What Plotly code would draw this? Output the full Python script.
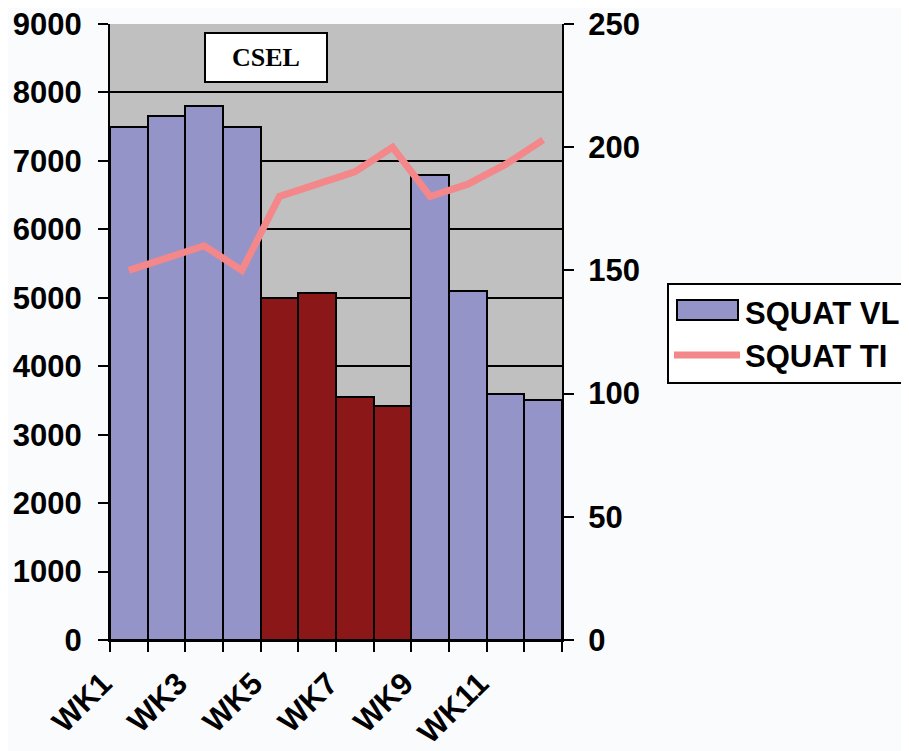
import plotly.graph_objects as go

weeks = ["WK1", "WK2", "WK3", "WK4", "WK5", "WK6", "WK7", "WK8", "WK9", "WK10", "WK11", "WK12"]
squat_vl = [7500, 7650, 7800, 7500, 5000, 5070, 3550, 3420, 6800, 5100, 3600, 3500]
squat_ti = [150, 155, 160, 150, 180, 185, 190, 200, 180, 185, 193, 203]
phase = ["base", "base", "base", "base", "csel", "csel", "csel", "csel", "base", "base", "base", "base"]
tick_labels = ["WK1", "", "WK3", "", "WK5", "", "WK7", "", "WK9", "", "WK11", ""]

BLUE = "#9494c9"
RED = "#8b1719"
LINE = "#f3878a"
FONT = "Liberation Sans, Arial, sans-serif"
FS = 31

bar_colors = [RED if p == "csel" else BLUE for p in phase]

# page body has an 8px margin; target plot area in window px: x 110-562, y 24-640
OFF = 8
W, H = 909, 751
L, T = 110 - OFF, 24 - OFF
PW, PH = 452, 616
R = W - L - PW
B = H - T - PH


def px(x):
    return (x - OFF - L) / PW


def py(y):
    return (H - B - (y - OFF)) / PH


fig = go.Figure()
fig.add_trace(go.Bar(
    x=weeks, y=squat_vl, name="SQUAT VL", showlegend=False,
    marker=dict(color=bar_colors, line=dict(color="black", width=2)),
    width=1.0, yaxis="y",
))
# legend entry for the bars (its wide swatch is drawn as a rectangle shape)
fig.add_trace(go.Scatter(
    x=[None], y=[None], name="SQUAT VL", mode="lines",
    line=dict(color="rgba(0,0,0,0)", width=2), yaxis="y", hoverinfo="skip",
))
fig.add_trace(go.Scatter(
    x=weeks, y=squat_ti, name="SQUAT TI", mode="lines",
    line=dict(color=LINE, width=7), yaxis="y2",
))

tickfont = dict(family=FONT, size=FS, color="black", weight="bold")

fig.update_layout(
    width=W, height=H,
    margin=dict(l=L, r=R, t=T, b=B, autoexpand=False),
    paper_bgcolor="#fafbfd",
    plot_bgcolor="#c0c0c0",
    bargap=0,
    font=dict(family=FONT, size=FS, color="black"),
    xaxis=dict(
        type="category", categoryorder="array", categoryarray=weeks,
        tickmode="array", tickvals=weeks, ticktext=tick_labels,
        tickson="boundaries", ticks="outside", ticklen=10, tickwidth=2, tickcolor="black",
        tickangle=-45, ticklabelshift=-26, ticklabelstandoff=11,
        showline=True, linecolor="black", linewidth=2, showgrid=False,
        tickfont=tickfont, automargin=False, ticklabeloverflow="allow",
        range=[-0.5, 11.5],
    ),
    yaxis=dict(
        range=[0, 9000], dtick=1000, tick0=0,
        ticks="outside", ticklen=10, tickwidth=2, tickcolor="black",
        showline=True, linecolor="black", linewidth=2,
        showgrid=True, gridcolor="black", gridwidth=2,
        zeroline=False, ticklabelstandoff=10,
        tickfont=tickfont, automargin=False, ticklabeloverflow="allow",
    ),
    yaxis2=dict(
        range=[0, 250], dtick=50, tick0=0, overlaying="y", side="right",
        ticks="outside", ticklen=10, tickwidth=2, tickcolor="black",
        showline=True, linecolor="black", linewidth=2,
        showgrid=False, zeroline=False, ticklabelstandoff=8,
        tickfont=tickfont, automargin=False, ticklabeloverflow="allow",
    ),
    legend=dict(
        x=px(667), y=py(283), xanchor="left", yanchor="top",
        bgcolor="rgba(0,0,0,0)", bordercolor="black", borderwidth=2,
        font=dict(family=FONT, size=31, color="black", weight="bold"),
        itemwidth=66, tracegroupgap=0,
    ),
    showlegend=True,
    shapes=[
        dict(type="rect", xref="paper", yref="paper",
             x0=px(667), x1=px(915), y0=py(380), y1=py(283),
             fillcolor="white", line=dict(width=0), layer="above"),
        dict(type="rect", xref="paper", yref="paper",
             x0=px(677), x1=px(738), y0=py(320), y1=py(300),
             fillcolor=BLUE, line=dict(color="black", width=2), layer="above"),
    ],
    annotations=[dict(
        text="<b>CSEL</b>", xref="paper", yref="paper", x=px(266), y=py(57),
        xanchor="center", yanchor="middle", showarrow=False,
        font=dict(family="Liberation Serif, Times New Roman, serif", size=26, color="black"),
        bgcolor="white", bordercolor="black", borderwidth=2, width=118, height=45,
    )],
)

fig.write_html("out.html")
